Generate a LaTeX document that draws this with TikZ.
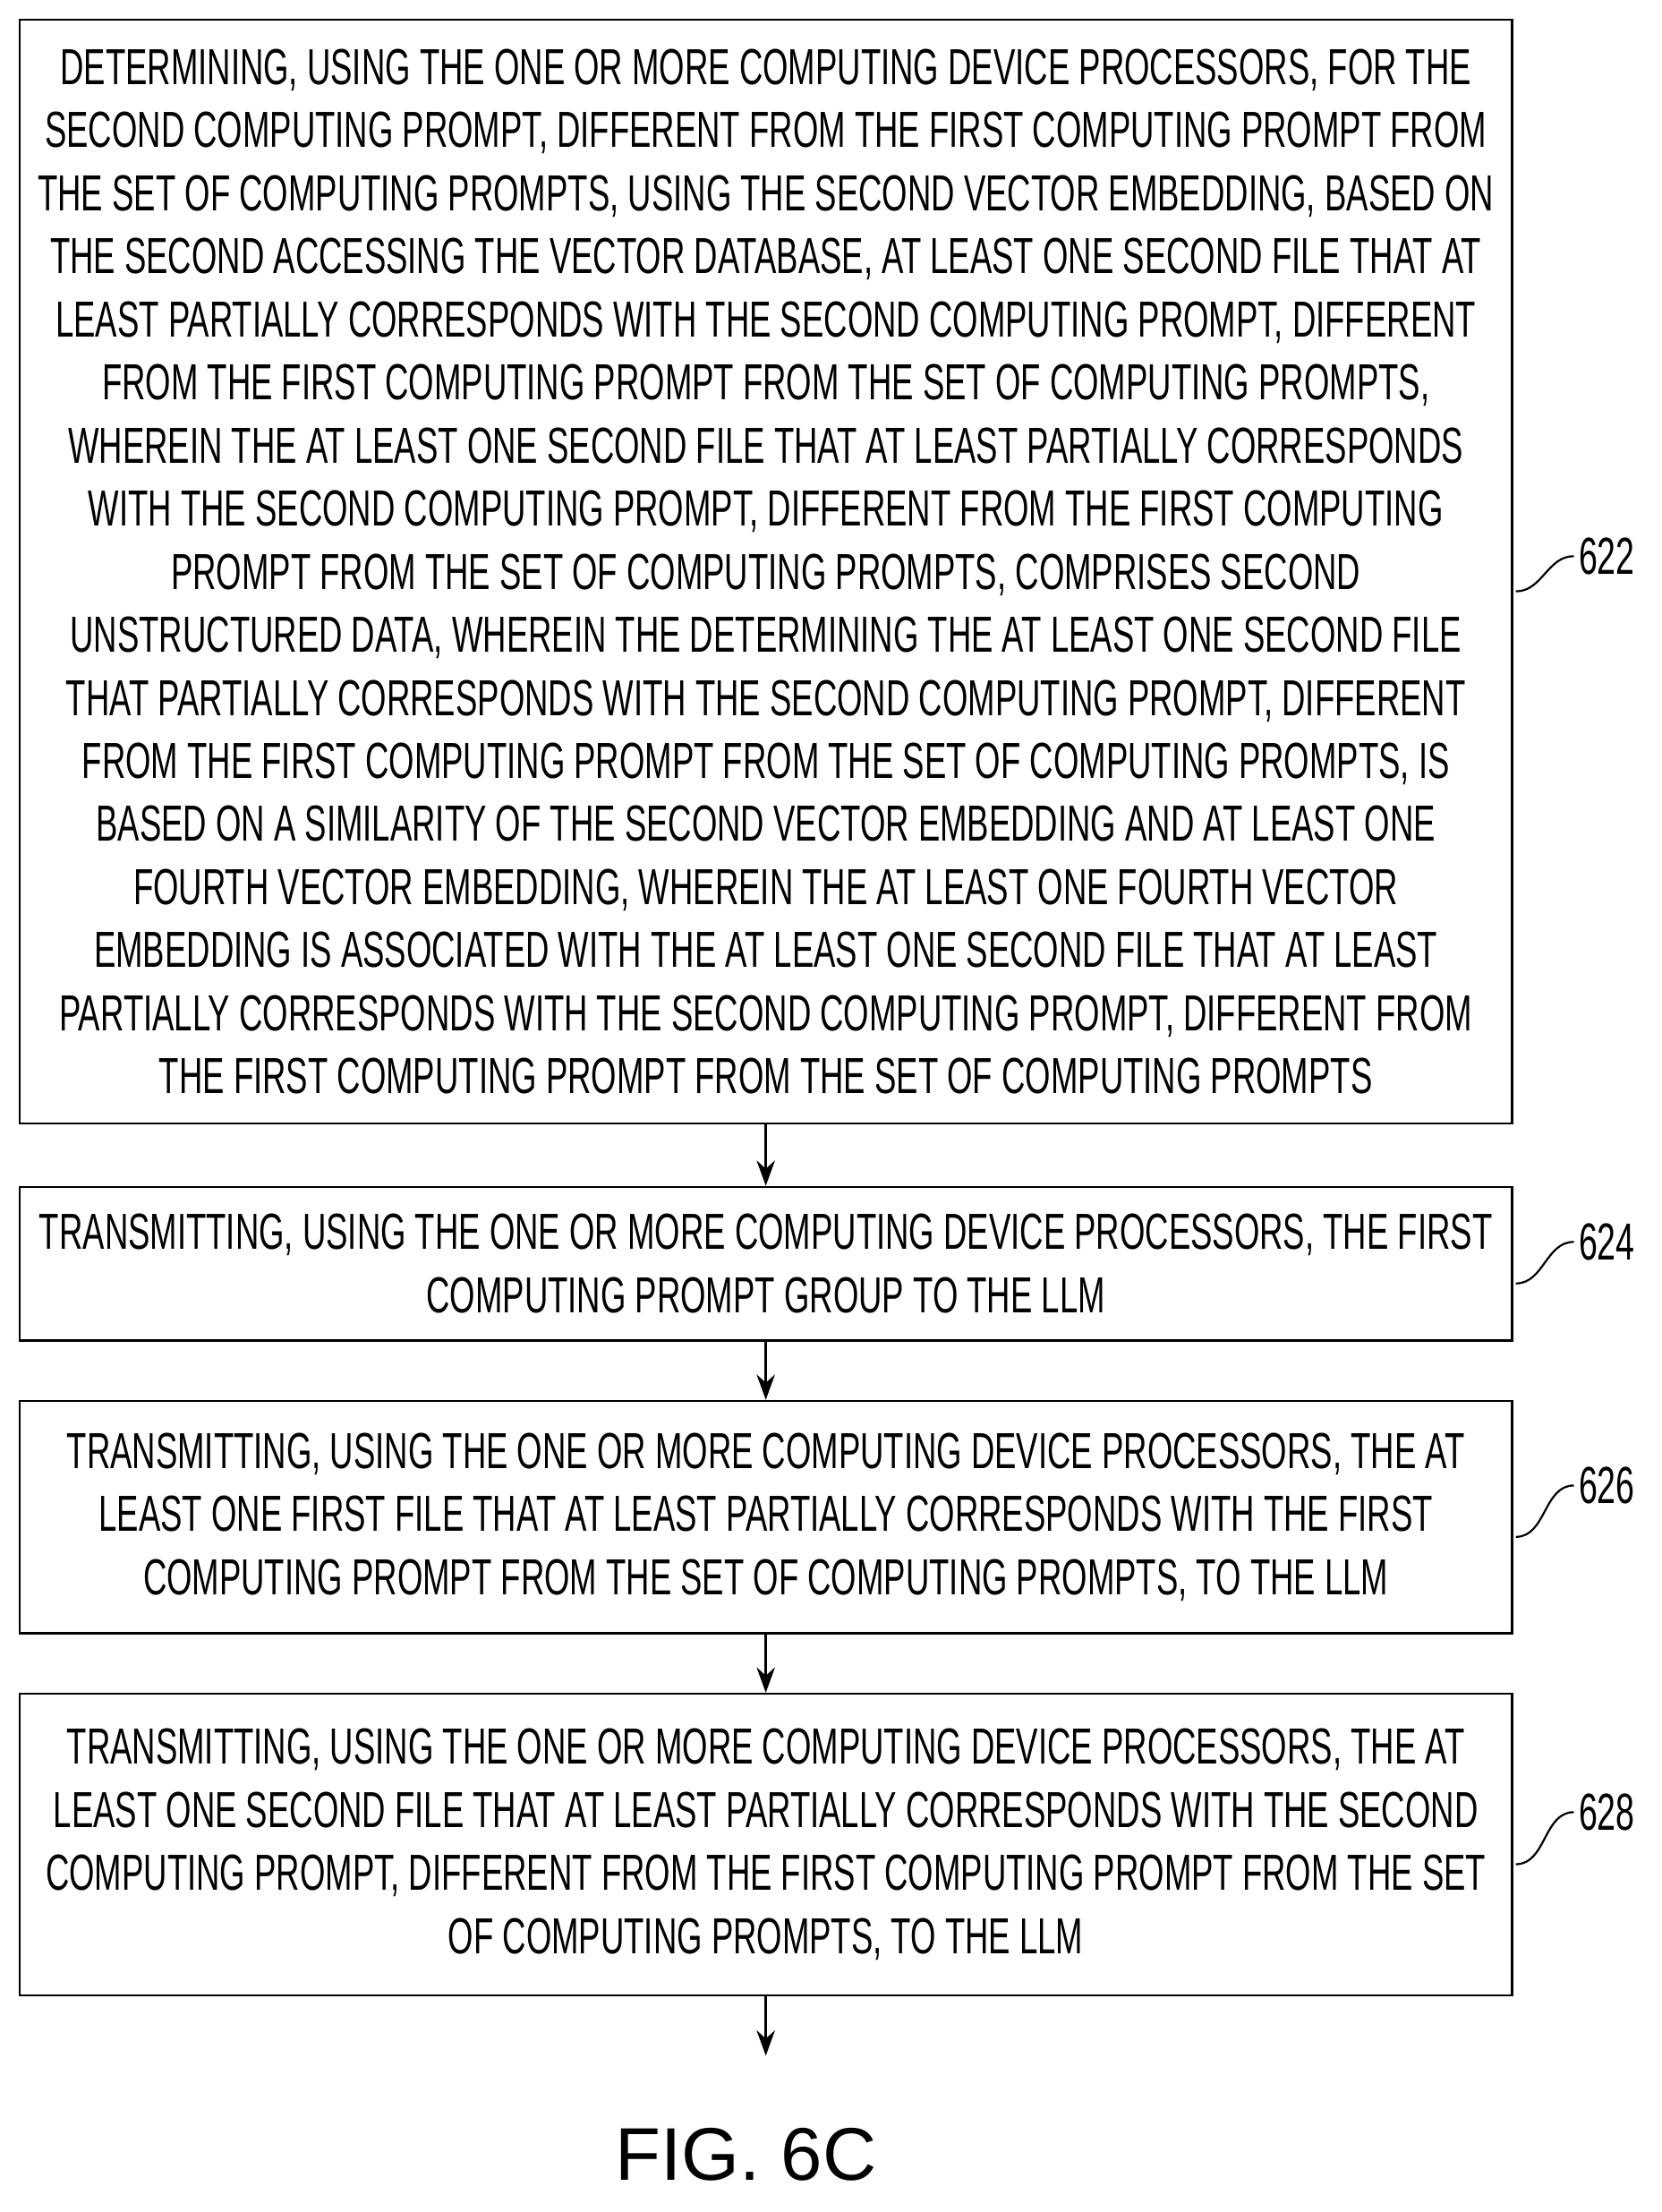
\documentclass[tikz,border=0pt]{standalone}
\usepackage{fontspec}
\setmainfont{Liberation Sans}[FakeStretch=0.645]
\newfontfamily\figfont{Liberation Sans}
\usetikzlibrary{arrows.meta,positioning,calc}
\tikzstyle{stepbox}=[draw, line width=1.6pt, minimum width=1060pt, align=center, inner sep=0pt, font=\fontsize{36}{44.8}\selectfont]
\tikzstyle{ref}=[anchor=west, font=\fontsize{37}{40}\selectfont]
\tikzstyle{flow}=[-{Stealth[length=18pt,width=13pt]}, line width=1.6pt]
\tikzstyle{lead}=[line width=1.4pt]
\begin{document}
\begin{tikzpicture}[x=1pt,y=1pt]
\useasboundingbox (0,0) rectangle (1180,-1571);
\node[stepbox, minimum height=784pt] (b622) at (544,-406) {DETERMINING, USING THE ONE OR MORE COMPUTING DEVICE PROCESSORS, FOR THE\\
SECOND COMPUTING PROMPT, DIFFERENT FROM THE FIRST COMPUTING PROMPT FROM\\
THE SET OF COMPUTING PROMPTS, USING THE SECOND VECTOR EMBEDDING, BASED ON\\
THE SECOND ACCESSING THE VECTOR DATABASE, AT LEAST ONE SECOND FILE THAT AT\\
LEAST PARTIALLY CORRESPONDS WITH THE SECOND COMPUTING PROMPT, DIFFERENT\\
FROM THE FIRST COMPUTING PROMPT FROM THE SET OF COMPUTING PROMPTS,\\
WHEREIN THE AT LEAST ONE SECOND FILE THAT AT LEAST PARTIALLY CORRESPONDS\\
WITH THE SECOND COMPUTING PROMPT, DIFFERENT FROM THE FIRST COMPUTING\\
PROMPT FROM THE SET OF COMPUTING PROMPTS, COMPRISES SECOND\\
UNSTRUCTURED DATA, WHEREIN THE DETERMINING THE AT LEAST ONE SECOND FILE\\
THAT PARTIALLY CORRESPONDS WITH THE SECOND COMPUTING PROMPT, DIFFERENT\\
FROM THE FIRST COMPUTING PROMPT FROM THE SET OF COMPUTING PROMPTS, IS\\
BASED ON A SIMILARITY OF THE SECOND VECTOR EMBEDDING AND AT LEAST ONE\\
FOURTH VECTOR EMBEDDING, WHEREIN THE AT LEAST ONE FOURTH VECTOR\\
EMBEDDING IS ASSOCIATED WITH THE AT LEAST ONE SECOND FILE THAT AT LEAST\\
PARTIALLY CORRESPONDS WITH THE SECOND COMPUTING PROMPT, DIFFERENT FROM\\
THE FIRST COMPUTING PROMPT FROM THE SET OF COMPUTING PROMPTS};
\node[stepbox, minimum height=109pt] (b624) at (544,-897.5) {TRANSMITTING, USING THE ONE OR MORE COMPUTING DEVICE PROCESSORS, THE FIRST\\
COMPUTING PROMPT GROUP TO THE LLM};
\node[stepbox, minimum height=165pt] (b626) at (544,-1077.5) {TRANSMITTING, USING THE ONE OR MORE COMPUTING DEVICE PROCESSORS, THE AT\\
LEAST ONE FIRST FILE THAT AT LEAST PARTIALLY CORRESPONDS WITH THE FIRST\\
COMPUTING PROMPT FROM THE SET OF COMPUTING PROMPTS, TO THE LLM};
\node[stepbox, minimum height=214pt] (b628) at (544,-1310) {TRANSMITTING, USING THE ONE OR MORE COMPUTING DEVICE PROCESSORS, THE AT\\
LEAST ONE SECOND FILE THAT AT LEAST PARTIALLY CORRESPONDS WITH THE SECOND\\
COMPUTING PROMPT, DIFFERENT FROM THE FIRST COMPUTING PROMPT FROM THE SET\\
OF COMPUTING PROMPTS, TO THE LLM};
\coordinate (end) at (544,-1460);
\node (fig) at (530,-1530) {\figfont\fontsize{53}{60}\selectfont FIG. 6C};

% reference numerals
\node[ref] (l622) at (1118,-395) {622};
\node[ref] (l624) at (1118,-882) {624};
\node[ref] (l626) at (1118,-1055) {626};
\node[ref] (l628) at (1118,-1287) {628};
\foreach \n in {622,624,626,628}
  \draw[lead] (l\n.west) to[out=180,in=0] ($(b\n.east)+(2,-14)$);

\draw[flow] (b622) -- (b624);
\draw[flow] (b624) -- (b626);
\draw[flow] (b626) -- (b628);
\draw[flow] (b628) -- (end);
\end{tikzpicture}
\end{document}
